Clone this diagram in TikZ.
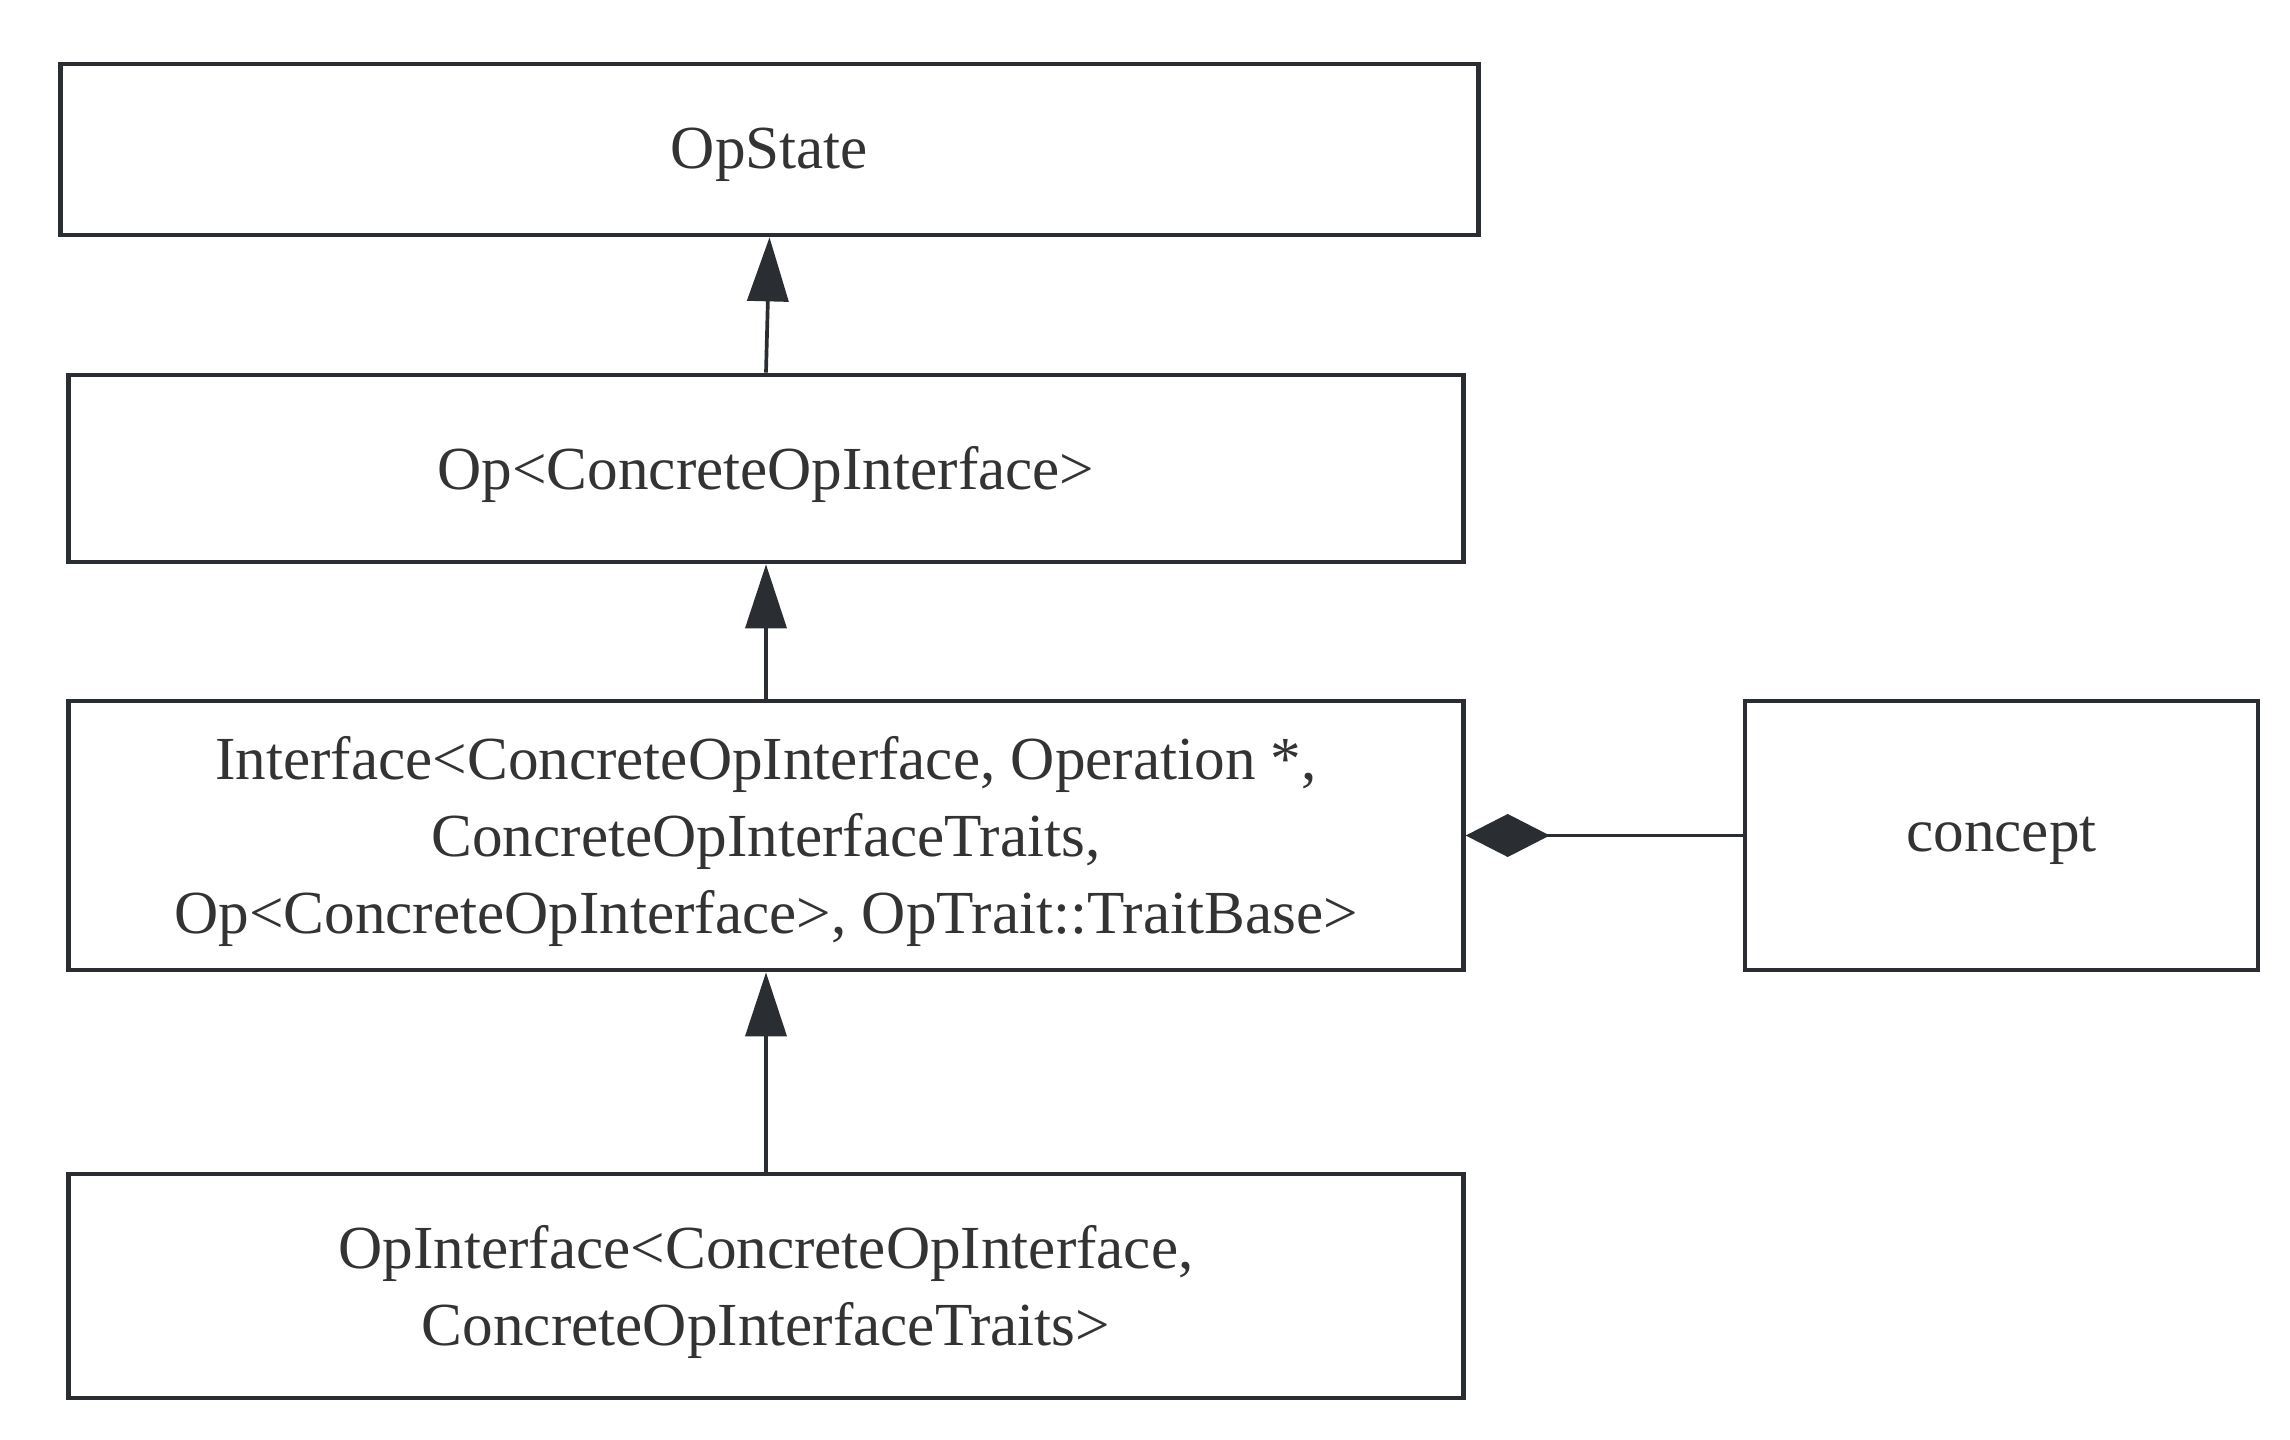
\documentclass[tikz,border=0pt]{standalone}
\usepackage{fontspec}
\setmainfont{Liberation Serif}
\usetikzlibrary{arrows.meta}
\definecolor{boxline}{HTML}{2A2E33}
\definecolor{txt}{HTML}{333333}
\begin{document}
\begin{tikzpicture}[x=0.01cm,y=-0.01cm,
  umlbox/.style={draw=boxline,line width=1.3pt,fill=white,inner sep=0pt},
  umltext/.style={inner sep=0pt,align=center,text=txt,yshift=-0.055cm,
    font=\fontsize{17.4pt}{21.9pt}\selectfont},
  inherit/.style={draw=boxline,line width=1.05pt,-{Triangle[length=6.4mm,width=4.1mm]}},
  compose/.style={draw=boxline,line width=1.05pt,-{Diamond[length=8.4mm,width=4.3mm]}}]
\useasboundingbox (0,0) rectangle (2290,1440);
\fill[white] (0,0) rectangle (2290,1440);
\node[umlbox,minimum width=14.17cm,minimum height=1.71cm,
  label={[umltext]center:OpState}] (opstate) at (769.5,149.5) {};
\node[umlbox,minimum width=13.94cm,minimum height=1.87cm,
  label={[umltext]center:{Op<ConcreteOpInterface>}}] (op) at (766,468.5) {};
\node[umlbox,minimum width=13.94cm,minimum height=2.69cm,
  label={[umltext]center:{Interface<ConcreteOpInterface, Operation *,\\ConcreteOpInterfaceTraits,\\Op<ConcreteOpInterface>, OpTrait::TraitBase>}}] (iface) at (766,835.5) {};
\node[umlbox,minimum width=13.94cm,minimum height=2.24cm,
  label={[umltext]center:{OpInterface<ConcreteOpInterface,\\ConcreteOpInterfaceTraits>}}] (opiface) at (766,1286) {};
\node[umlbox,minimum width=5.13cm,minimum height=2.69cm,
  label={[umltext]center:concept}] (concept) at (2001.5,835.5) {};
\draw[inherit] (op.north) -- (opstate.south);
\draw[inherit] (iface.north) -- (op.south);
\draw[inherit] (opiface.north) -- (iface.south);
\draw[compose] (concept.west) -- (iface.east);
\end{tikzpicture}
\end{document}
